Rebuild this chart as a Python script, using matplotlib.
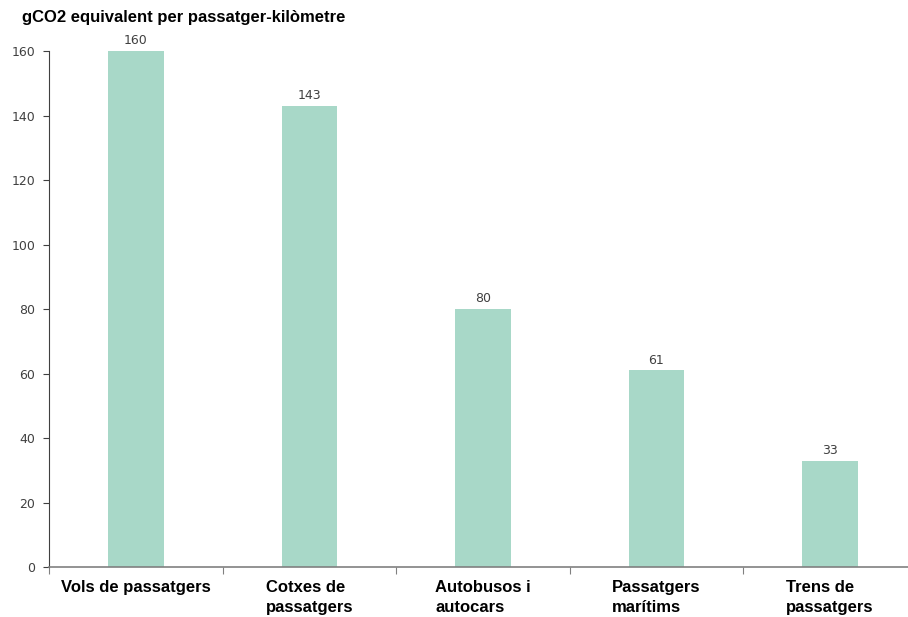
import matplotlib
matplotlib.use('Agg')
import matplotlib.pyplot as plt

# gCO2 equivalent per passenger-km, by transport mode
categories = ['Vols de passatgers', 'Cotxes de\npassatgers', 'Autobusos i\nautocars',
              'Passatgers\nmarítims', 'Trens de\npassatgers']
values = [160, 143, 80, 61, 33]
yticks = [0, 20, 40, 60, 80, 100, 120, 140, 160]

plt.rcParams['font.family'] = ['Liberation Sans', 'DejaVu Sans']

fig = plt.figure(figsize=(9.08, 6.17), dpi=100)
ax = fig.add_axes([0.054, 0.081, 0.946, 0.836])

xs = range(len(values))
ax.bar(xs, values, width=0.32, color='#a8d8c8')
for x, v in zip(xs, values):
    ax.text(x, v + 1.2, str(v), ha='center', va='bottom', fontsize=9, color='#404040',
            family=['DejaVu Sans'])

ax.set_xlim(-0.5, 4.45)
ax.set_ylim(0, 160)
ax.set_yticks(yticks)
ax.set_yticklabels([str(t) for t in yticks], fontsize=9, color='#404040', family=['DejaVu Sans'])
ax.tick_params(axis='y', length=4, color='#404040', pad=6)

# category boundaries get the tick marks, labels sit under the centres
ax.set_xticks([i - 0.5 for i in range(len(values))])
ax.set_xticklabels([])
ax.tick_params(axis='x', length=5, color='#808080', direction='out')
for x, lab in zip(xs, categories):
    ax.text(x, -4.0, lab, ha='center', va='top', multialignment='left',
            fontsize=12, fontweight='bold', color='black', linespacing=1.4)

for s in ['top', 'right']:
    ax.spines[s].set_visible(False)
ax.spines['left'].set_color('#404040')
ax.spines['bottom'].set_color('#808080')
ax.spines['bottom'].set_linewidth(1.2)

fig.text(0.024, 0.972, 'gCO2 equivalent per passatger-kilòmetre', fontsize=12,
         fontweight='bold', ha='left', va='center')

fig.savefig('out.png', dpi=100)
